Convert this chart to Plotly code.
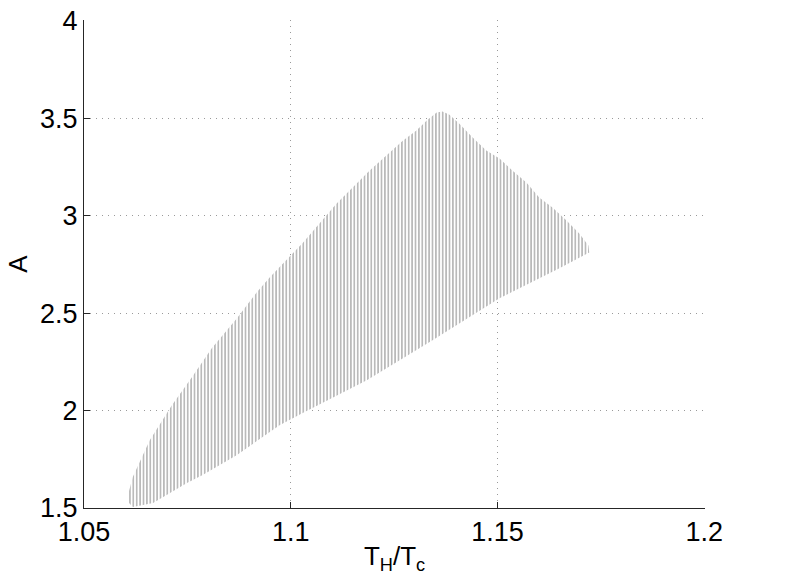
import plotly.graph_objects as go

top_x = [1.0609, 1.0618, 1.0659, 1.0713, 1.0761, 1.0809, 1.0870, 1.0918, 1.0949,
         1.0998, 1.1029, 1.1111, 1.1191, 1.1271, 1.1304, 1.1329, 1.1353, 1.1367,
         1.1384, 1.1408, 1.1440, 1.1473, 1.1505, 1.1536, 1.1570, 1.1601, 1.1633,
         1.1667, 1.1698, 1.1720, 1.1722]
top_y = [1.587, 1.659, 1.848, 2.028, 2.171, 2.320, 2.473, 2.607, 2.683,
         2.790, 2.860, 3.063, 3.232, 3.385, 3.437, 3.488, 3.529, 3.534,
         3.518, 3.472, 3.401, 3.334, 3.293, 3.232, 3.170, 3.093, 3.042,
         2.975, 2.909, 2.847, 2.811]
bottom_x = [1.1650, 1.1505, 1.1343, 1.1184, 1.1029, 1.0973, 1.0870, 1.0787,
            1.0749, 1.0708, 1.0667, 1.0618, 1.0609]
bottom_y = [2.730, 2.576, 2.361, 2.156, 1.987, 1.925, 1.772, 1.669,
            1.628, 1.577, 1.526, 1.505, 1.526]

x_ticks = [1.05, 1.1, 1.15, 1.2]
x_tick_labels = ["1.05", "1.1", "1.15", "1.2"]
y_ticks = [1.5, 2, 2.5, 3, 3.5, 4]
y_tick_labels = ["1.5", "2", "2.5", "3", "3.5", "4"]

poly_x = top_x + bottom_x
poly_y = top_y + bottom_y

fig = go.Figure()
fig.add_trace(go.Scatter(
    x=poly_x, y=poly_y, mode="lines", fill="toself",
    line=dict(width=0, color="rgba(0,0,0,0)"),
    fillcolor="white",
    fillpattern=dict(shape="|", fgcolor="#666666", bgcolor="white",
                     size=3.4, solidity=0.45),
    hoverinfo="skip", showlegend=False,
))

font_family = "Liberation Sans, Arial, Helvetica, sans-serif"
axis_common = dict(
    showline=True, linecolor="#262626", linewidth=1,
    ticks="inside", ticklen=6, tickcolor="#262626", tickwidth=1,
    showgrid=True, gridcolor="#9a9a9a", gridwidth=1, griddash="1px,5px",
    zeroline=False, mirror=False, automargin=False,
    tickfont=dict(family=font_family, size=27, color="black"),
)

fig.update_layout(
    width=786, height=577,
    margin=dict(l=84, r=81, t=20, b=69),
    paper_bgcolor="white", plot_bgcolor="white",
    font=dict(family=font_family, color="black"),
    xaxis=dict(range=[1.05, 1.2002], tickvals=x_ticks, ticktext=x_tick_labels,
               title=dict(text="T<sub>H</sub>/T<sub>c</sub>",
                          font=dict(family=font_family, size=26), standoff=0),
               **axis_common),
    yaxis=dict(range=[1.5, 4.004], tickvals=y_ticks, ticktext=y_tick_labels,
               title=dict(text="A", font=dict(family=font_family, size=26),
                          standoff=4),
               **axis_common),
)

fig.write_html("out.html",
               config={"displayModeBar": False, "staticPlot": True},
               post_script="document.body.style.margin='0';document.body.style.overflow='hidden';")
